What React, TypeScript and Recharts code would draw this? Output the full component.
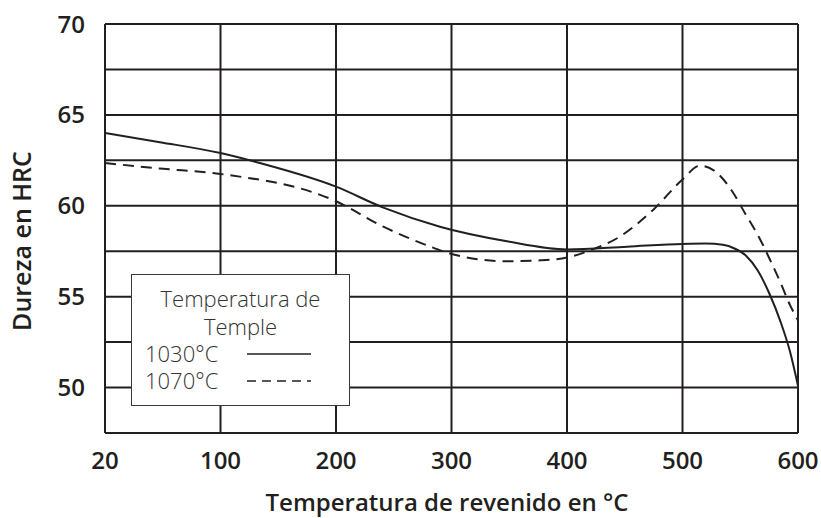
import { LineChart, Line, XAxis, YAxis, CartesianGrid, Legend, Label } from "recharts"

// Temperatura de revenido (°C) y dureza (HRC)
const temps1030 = [20, 58, 100, 134, 200, 241, 290, 348, 400, 452, 500, 520, 535, 545, 555, 565, 575, 585, 593, 600]
const hrc1030 = [64.0, 63.5, 62.9, 62.35, 61.05, 59.9, 58.85, 58.05, 57.6, 57.75, 57.9, 57.92, 57.85, 57.65, 57.25, 56.45, 55.2, 53.6, 52.0, 50.1]

const temps1070 = [20, 58, 100, 200, 241, 284, 300, 348, 377, 400, 420, 443, 475, 500, 515, 527, 543, 554, 566, 576, 585, 593, 600]
const hrc1070 = [62.35, 62.05, 61.75, 60.25, 58.85, 57.7, 57.35, 56.95, 57.0, 57.15, 57.55, 58.2, 59.8, 61.45, 62.2, 61.95, 60.8, 59.6, 58.3, 57.0, 55.75, 54.55, 53.7]

const xTicks = [20, 100, 200, 300, 400, 500, 600]
const yTicks = [47.5, 50, 52.5, 55, 57.5, 60, 62.5, 65, 67.5, 70]

const INK = "#231f20"
const FONT = "'Open Sans', sans-serif"

// el primer tramo (20-100) ocupa el mismo ancho que los demás
const toPos = (t: number) => (t <= 100 ? ((t - 20) / 80) * 100 : t)

const series1030 = temps1030.map((t, i) => ({ pos: toPos(t), hrc: hrc1030[i] }))
const series1070 = temps1070.map((t, i) => ({ pos: toPos(t), hrc: hrc1070[i] }))

const renderLegend = () => (
  <div
    style={{
      width: 219,
      height: 132,
      boxSizing: "border-box",
      border: "1.5px solid #3a3a3a",
      background: "#fff",
      fontFamily: FONT,
      fontWeight: 300,
      fontSize: 22,
      color: "#333",
      lineHeight: "27px",
      paddingTop: 9,
    }}
  >
    <div style={{ textAlign: "center", lineHeight: "29px" }}>Temperatura de</div>
    <div style={{ textAlign: "center" }}>Temple</div>
    {[
      { name: "1030°C", dash: undefined },
      { name: "1070°C", dash: "9 6" },
    ].map((item) => (
      <div key={item.name} style={{ display: "flex", alignItems: "center", paddingLeft: 13 }}>
        <span style={{ width: 102 }}>{item.name}</span>
        <svg width={64} height={10}>
          <line x1={0} y1={5} x2={64} y2={5} stroke={INK} strokeWidth={1.6} strokeDasharray={item.dash} />
        </svg>
      </div>
    ))}
  </div>
)

export default function App() {
  return (
    <div style={{ position: "absolute", left: 0, top: 0, background: "#fff" }}>
      <LineChart width={821} height={518} margin={{ top: 24, right: 23, left: 0, bottom: 0 }}>
        <CartesianGrid stroke={INK} strokeWidth={2} />
        <XAxis
          type="number"
          dataKey="pos"
          domain={[0, 600]}
          ticks={xTicks.map(toPos)}
          tickFormatter={(v: number) => String(xTicks[xTicks.map(toPos).indexOf(v)])}
          height={85}
          tickSize={0}
          tickMargin={19}
          axisLine={{ stroke: INK, strokeWidth: 2 }}
          tick={{ fill: INK, fontSize: 24, fontWeight: 600, fontFamily: FONT }}
        >
          <Label
            content={() => (
              <text x={447} y={501} textAnchor="middle" dominantBaseline="central" fill={INK} fontSize={24} fontWeight={600} fontFamily={FONT}>
                Temperatura de revenido en °C
              </text>
            )}
          />
        </XAxis>
        <YAxis
          type="number"
          domain={[47.5, 70]}
          ticks={yTicks}
          interval={0}
          tickFormatter={(v: number) => (v % 5 === 0 ? String(v) : "")}
          width={105}
          tickSize={0}
          tickMargin={20}
          axisLine={{ stroke: INK, strokeWidth: 2 }}
          tick={{ fill: INK, fontSize: 24, fontWeight: 600, fontFamily: FONT }}
        >
          <Label
            content={() => (
              <text x={21} y={241} transform="rotate(-90 21 241)" textAnchor="middle" dominantBaseline="central" fill={INK} fontSize={25} fontWeight={600} fontFamily={FONT}>
                Dureza en HRC
              </text>
            )}
          />
        </YAxis>
        <Legend
          layout="vertical"
          align="center"
          verticalAlign="middle"
          content={renderLegend}
          wrapperStyle={{ left: 131, top: 274, width: 219, height: 132 }}
        />
        <Line
          data={series1030}
          dataKey="hrc"
          type="monotone"
          stroke={INK}
          strokeWidth={2}
          dot={false}
          isAnimationActive={false}
        />
        <Line
          data={series1070}
          dataKey="hrc"
          type="monotone"
          stroke={INK}
          strokeWidth={2}
          strokeDasharray="11 7"
          dot={false}
          isAnimationActive={false}
        />
      </LineChart>
    </div>
  )
}
